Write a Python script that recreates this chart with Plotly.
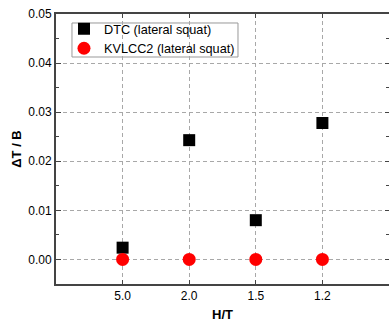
import plotly.graph_objects as go

ht_labels = ["5.0", "2.0", "1.5", "1.2"]
dtc_vals = [0.0024, 0.0243, 0.0080, 0.0278]
kvlcc2_vals = [0.0, 0.0, 0.0, 0.0]

FONT = "Liberation Sans, Arial, sans-serif"
AX = "#444444"
GRID = "#a8a8a8"

fig = go.Figure()
fig.add_trace(go.Scatter(
    x=ht_labels, y=dtc_vals, mode="markers", name="DTC (lateral squat)",
    marker=dict(symbol="square", size=12, color="black", line=dict(width=0)),
))
fig.add_trace(go.Scatter(
    x=ht_labels, y=kvlcc2_vals, mode="markers", name="KVLCC2 (lateral squat)",
    marker=dict(symbol="circle", size=13, color="#ff0000", line=dict(width=0)),
))
fig.add_trace(go.Scatter(x=[], y=[], yaxis="y2", showlegend=False, hoverinfo="skip"))

# legend frame
fig.add_shape(type="rect", xref="paper", yref="paper",
              x0=0.048, x1=0.5465, y0=0.8407, y1=0.9667,
              line=dict(color="#999999", width=1), fillcolor="white", layer="between")

fig.update_layout(
    width=389, height=324,
    margin=dict(l=56, r=0, t=14, b=40),
    paper_bgcolor="white", plot_bgcolor="white",
    font=dict(family=FONT, size=12, color="black"),
    showlegend=True,
    legend=dict(
        x=0.024, y=1.0, xanchor="left", yanchor="top",
        bgcolor="rgba(0,0,0,0)", borderwidth=0,
        font=dict(family=FONT, size=12.7, color="black"),
        tracegroupgap=0, itemwidth=30,
    ),
    xaxis=dict(
        type="category", range=[-1, 4],
        showline=True, linecolor=AX, linewidth=2, mirror="ticks",
        ticks="inside", ticklen=4, tickcolor=AX, tickwidth=1,
        showgrid=True, gridcolor=GRID, gridwidth=1, griddash="4px,3px",
        tickfont=dict(family=FONT, size=12, color="black"),
        title=dict(text="<b>H/T</b>", font=dict(family=FONT, size=13, color="black"), standoff=7),
        zeroline=False,
    ),
    yaxis=dict(
        range=[-0.005, 0.05], tick0=0, dtick=0.01, tickformat=".2f",
        showline=True, linecolor=AX, linewidth=2, mirror=False,
        ticks="inside", ticklen=5, tickcolor=AX, tickwidth=1,
        minor=dict(dtick=0.005, tick0=0, ticks="inside", ticklen=3, tickcolor=AX, showgrid=False),
        showgrid=True, gridcolor=GRID, gridwidth=1, griddash="4px,3px",
        zeroline=False,
        tickfont=dict(family=FONT, size=12, color="black"),
        title=dict(text="<b>ΔT / B</b>", font=dict(family=FONT, size=13, color="black"), standoff=4),
    ),
    yaxis2=dict(
        overlaying="y", side="right", anchor="x",
        range=[-0.005, 0.05], tick0=0, dtick=0.01,
        showline=False, showgrid=False, zeroline=False, showticklabels=False,
        ticks="inside", ticklen=4, tickcolor=AX, tickwidth=1,
        minor=dict(dtick=0.005, tick0=0, ticks="inside", ticklen=3, tickcolor=AX, showgrid=False),
    ),
)

fig.write_html("out.html")
